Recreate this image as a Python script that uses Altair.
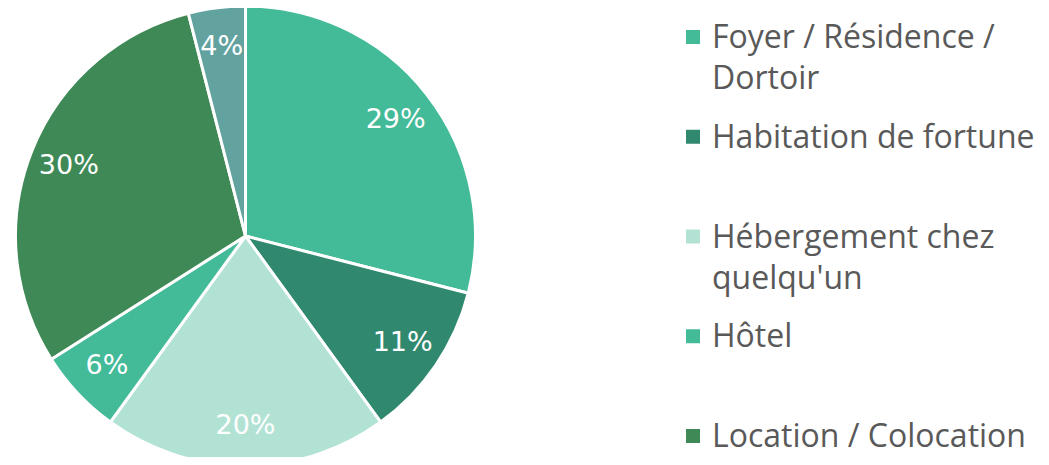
import altair as alt
import pandas as pd

categories = ["Foyer / Résidence / Dortoir", "Habitation de fortune",
              "Hébergement chez quelqu'un", "Hôtel", "Location / Colocation", "Autre"]
values = [29, 11, 20, 6, 30, 4]
legend_labels = ["Foyer / Résidence /\nDortoir", "Habitation de fortune",
                 "Hébergement chez\nquelqu'un", "Hôtel", "Location / Colocation", "Autre"]
colors = ["#43BA98", "#30896F", "#B2E2D4", "#43BA98", "#3E8955", "#62A39F"]

df = pd.DataFrame({
    "cat": categories,
    "val": values,
    "pct": [f"{v}%" for v in values],
    "idx": list(range(len(categories))),
    "leg": legend_labels,
})

LEG_FONT = "Open Sans"
PCT_FONT = "DejaVu Sans"
color = alt.Color("cat:N", scale=alt.Scale(domain=categories, range=colors), legend=None)
cx, cy = alt.value(237.5), alt.value(228)

base = alt.Chart(df)

pie = base.mark_arc(radius=230, stroke="white", strokeWidth=3).encode(
    theta=alt.Theta("val:Q", stack=True),
    order=alt.Order("idx:Q"),
    color=color, x=cx, y=cy,
)
labels = base.mark_text(radius=190, font=PCT_FONT, fontSize=27, color="white").encode(
    theta=alt.Theta("val:Q", stack=True),
    order=alt.Order("idx:Q"),
    text="pct:N", x=cx, y=cy,
)

legend_base = base.transform_filter("datum.idx <= 4")
yscale = alt.Scale(domain=[0, 4], range=[29, 428])
squares = legend_base.mark_square(size=196, opacity=1).encode(
    x=alt.value(685),
    y=alt.Y("idx:Q", scale=yscale, axis=None),
    color=color,
)
legtext = legend_base.mark_text(align="left", baseline="alphabetic", dy=11, lineBreak="\n",
                                lineHeight=41, font=LEG_FONT, fontSize=32, color="#595959").encode(
    x=alt.value(704),
    y=alt.Y("idx:Q", scale=yscale, axis=None),
    text="leg:N",
)

chart = alt.layer(pie, labels, squares, legtext).properties(
    width=1033, height=449, padding=0, autosize=alt.AutoSizeParams(type="none"),
).configure_view(stroke=None)

chart.save("out.html", embed_options={"renderer": "svg", "actions": False})
